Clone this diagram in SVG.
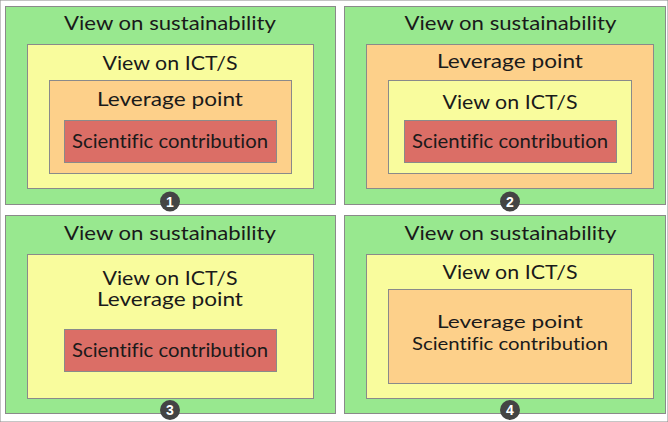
<svg xmlns="http://www.w3.org/2000/svg" width="668" height="422" viewBox="0 0 668 422">
<style>
rect{stroke:#8a8a8a;stroke-width:1}
.g{fill:#98e88f}.y{fill:#f9fc9d}.o{fill:#fdd08a}.r{fill:#db6e66}
text{font-family:"Lato","Noto Sans",sans-serif;font-size:19px;fill:#1a1a1a;text-anchor:middle;font-variant-ligatures:none}
.s{font-size:18px}
.b{fill:#444}
.n{fill:#fff;font-size:14px;font-weight:bold;font-family:"Liberation Sans",sans-serif}
</style>
<rect width="668" height="422" fill="#fff" stroke="none"/>
<g id="panel1">
<rect class="g" x="5.5" y="6.5" width="330" height="198"/>
<text x="170" y="30" textLength="212" lengthAdjust="spacingAndGlyphs">View on sustainability</text>
<rect class="y" x="27.5" y="44.5" width="286" height="144"/>
<text x="170" y="70" textLength="135" lengthAdjust="spacingAndGlyphs">View on ICT/S</text>
<rect class="o" x="49.5" y="80.5" width="242" height="93"/>
<text x="170" y="106" textLength="146" lengthAdjust="spacingAndGlyphs">Leverage point</text>
<rect class="r" x="64.5" y="120.5" width="212" height="42"/>
<text x="170" y="148" textLength="196" lengthAdjust="spacingAndGlyphs">Scientific contribution</text>
<circle class="b" cx="170" cy="201.5" r="10"/>
<text class="n" x="170" y="206.5">1</text>
</g>
<g id="panel2">
<rect class="g" x="344.5" y="6.5" width="321" height="198"/>
<text x="510.5" y="30" textLength="212" lengthAdjust="spacingAndGlyphs">View on sustainability</text>
<rect class="o" x="366.5" y="44.5" width="287" height="144"/>
<text x="510" y="68" textLength="146" lengthAdjust="spacingAndGlyphs">Leverage point</text>
<rect class="y" x="388.5" y="80.5" width="243" height="93"/>
<text x="510" y="109" textLength="135" lengthAdjust="spacingAndGlyphs">View on ICT/S</text>
<rect class="r" x="404.5" y="120.5" width="212" height="42"/>
<text x="510" y="148" textLength="196" lengthAdjust="spacingAndGlyphs">Scientific contribution</text>
<circle class="b" cx="510" cy="201.5" r="10"/>
<text class="n" x="510" y="206.5">2</text>
</g>
<g id="panel3">
<rect class="g" x="5.5" y="215.5" width="330" height="198"/>
<text x="170" y="240" textLength="212" lengthAdjust="spacingAndGlyphs">View on sustainability</text>
<rect class="y" x="27.5" y="254.5" width="286" height="144"/>
<text x="170" y="285" textLength="135" lengthAdjust="spacingAndGlyphs">View on ICT/S</text>
<text x="170" y="306" textLength="146" lengthAdjust="spacingAndGlyphs">Leverage point</text>
<rect class="r" x="64.5" y="329.5" width="212" height="42"/>
<text x="170" y="357" textLength="196" lengthAdjust="spacingAndGlyphs">Scientific contribution</text>
<circle class="b" cx="170" cy="410" r="10"/>
<text class="n" x="170" y="415">3</text>
</g>
<g id="panel4">
<rect class="g" x="344.5" y="215.5" width="321" height="198"/>
<text x="510.5" y="240" textLength="212" lengthAdjust="spacingAndGlyphs">View on sustainability</text>
<rect class="y" x="366.5" y="254.5" width="287" height="144"/>
<text x="510" y="279" textLength="135" lengthAdjust="spacingAndGlyphs">View on ICT/S</text>
<rect class="o" x="388.5" y="289.5" width="243" height="94"/>
<text class="s" x="510" y="328" textLength="146" lengthAdjust="spacingAndGlyphs">Leverage point</text>
<text class="s" x="510" y="350" textLength="196" lengthAdjust="spacingAndGlyphs">Scientific contribution</text>
<circle class="b" cx="510" cy="410" r="10"/>
<text class="n" x="510" y="415">4</text>
</g>
<g id="connectors"/>
</svg>
